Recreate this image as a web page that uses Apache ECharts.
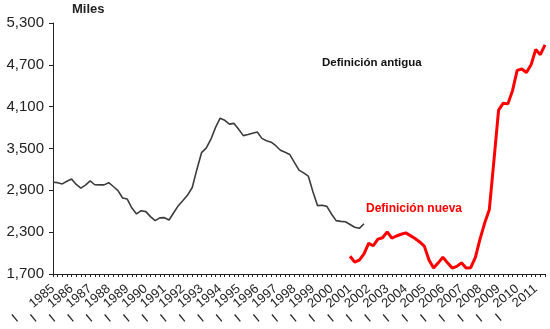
<!DOCTYPE html>
<html>
<head>
<meta charset="utf-8">
<script src="https://cdn.jsdelivr.net/npm/echarts@6/dist/echarts.min.js"></script>
<style>
  html, body { margin: 0; padding: 0; background: #fff; }
  #chart { width: 550px; height: 329px; }
</style>
</head>
<body>
<div id="chart"></div>
<script>
// Quarterly series, 1985-I to 2011-III
const years = [1985, 1986, 1987, 1988, 1989, 1990, 1991, 1992, 1993, 1994, 1995, 1996, 1997, 1998,
               1999, 2000, 2001, 2002, 2003, 2004, 2005, 2006, 2007, 2008, 2009, 2010, 2011];
const quarters = ['I', 'II', 'III', 'IV'];
const lastYearQuarters = 3;

// Old definition (thousands), from 1985-I
const oldDefinition = [
  3015, 3010, 2992, 3030, 3062, 2985, 2932, 2975, 3035, 2980, 2978, 2978,
  3010, 2955, 2895, 2790, 2775, 2645, 2562, 2608, 2595, 2523, 2465, 2505,
  2508, 2475, 2578, 2680, 2755, 2832, 2940, 3200, 3440, 3505, 3630, 3800,
  3935, 3905, 3850, 3860, 3775, 3685, 3700, 3720, 3737, 3645, 3612, 3590,
  3540, 3475, 3445, 3415, 3300, 3190, 3150, 3105, 2880, 2680, 2685, 2670,
  2560, 2465, 2455, 2450, 2410, 2370, 2355, 2420
];

// New definition (thousands), from 2001-I
const newDefinitionStart = 64;
const newDefinition = [
  1955, 1870, 1900, 1990, 2140, 2105, 2200, 2220, 2305, 2215, 2245, 2270,
  2290, 2250, 2210, 2160, 2100, 1900, 1785, 1860, 1940, 1860, 1785, 1810,
  1860, 1785, 1790, 1940, 2200, 2430, 2620, 3330, 4050, 4150, 4140, 4330,
  4620, 4640, 4590, 4700, 4920, 4845, 4985
];

const yMin = 1700, yMax = 5300, yStep = 600;

const categories = [];
years.forEach((y, yi) => {
  const n = yi === years.length - 1 ? lastYearQuarters : 4;
  for (let q = 0; q < n; q++) categories.push(quarters[q] + ' ' + y);
});

const oldData = categories.map((_, i) => i < oldDefinition.length ? oldDefinition[i] : null);
const newData = categories.map((_, i) => {
  const k = i - newDefinitionStart;
  return k >= 0 && k < newDefinition.length ? newDefinition[k] : null;
});

const chart = echarts.init(document.getElementById('chart'), null, { renderer: 'canvas' });

const font = 'Liberation Sans, Arial, sans-serif';

chart.setOption({
  animation: false,
  backgroundColor: '#ffffff',
  grid: { left: 53, right: 5, top: 23, bottom: 55, containLabel: false },
  xAxis: {
    type: 'category',
    data: categories,
    boundaryGap: false,
    axisLine: { lineStyle: { color: '#222', width: 1 } },
    axisTick: { show: true, interval: 0, length: 3, lineStyle: { color: '#222' } },
    axisLabel: {
      interval: 0,
      rotate: 40,
      margin: 13,
      fontFamily: font,
      fontSize: 13,
      color: '#222',
      formatter: (v) => {
        const parts = v.split(' ');
        if (parts[0] !== 'I') return '';
        return '{q|' + parts[0] + '}{y|' + parts[1] + '}';
      },
      rich: {
        q: { fontFamily: font, fontSize: 13, color: '#222', width: 22, align: 'left' },
        y: { fontFamily: font, fontSize: 13, color: '#222' }
      }
    },
    splitLine: { show: false }
  },
  yAxis: {
    type: 'value',
    min: yMin,
    max: yMax,
    interval: yStep,
    axisLine: { show: true, lineStyle: { color: '#222', width: 1 } },
    axisTick: { show: true, length: 4, lineStyle: { color: '#222' } },
    axisLabel: {
      margin: 9,
      fontFamily: font,
      fontSize: 15,
      color: '#222',
      formatter: (v) => v.toLocaleString('en-US')
    },
    splitLine: { show: false }
  },
  series: [
    {
      name: 'Definición antigua',
      type: 'line',
      data: oldData,
      showSymbol: false,
      connectNulls: false,
      lineStyle: { color: '#3c3c3c', width: 1.6 },
      itemStyle: { color: '#3c3c3c' }
    },
    {
      name: 'Definición nueva',
      type: 'line',
      data: newData,
      showSymbol: false,
      connectNulls: false,
      lineStyle: { color: '#ff0000', width: 3 },
      itemStyle: { color: '#ff0000' }
    }
  ],
  graphic: [
    {
      type: 'text', left: 72, top: 3,
      style: { text: 'Miles', fontFamily: font, fontSize: 13, fontWeight: 'bold', fill: '#222' }
    },
    {
      type: 'text', left: 322, top: 57,
      style: { text: 'Definición antigua', fontFamily: font, fontSize: 11.5, fontWeight: 'bold', fill: '#111' }
    },
    {
      type: 'text', left: 366, top: 203,
      style: { text: 'Definición nueva', fontFamily: font, fontSize: 12, fontWeight: 'bold', fill: '#ff0000' }
    }
  ]
});
</script>
</body>
</html>
